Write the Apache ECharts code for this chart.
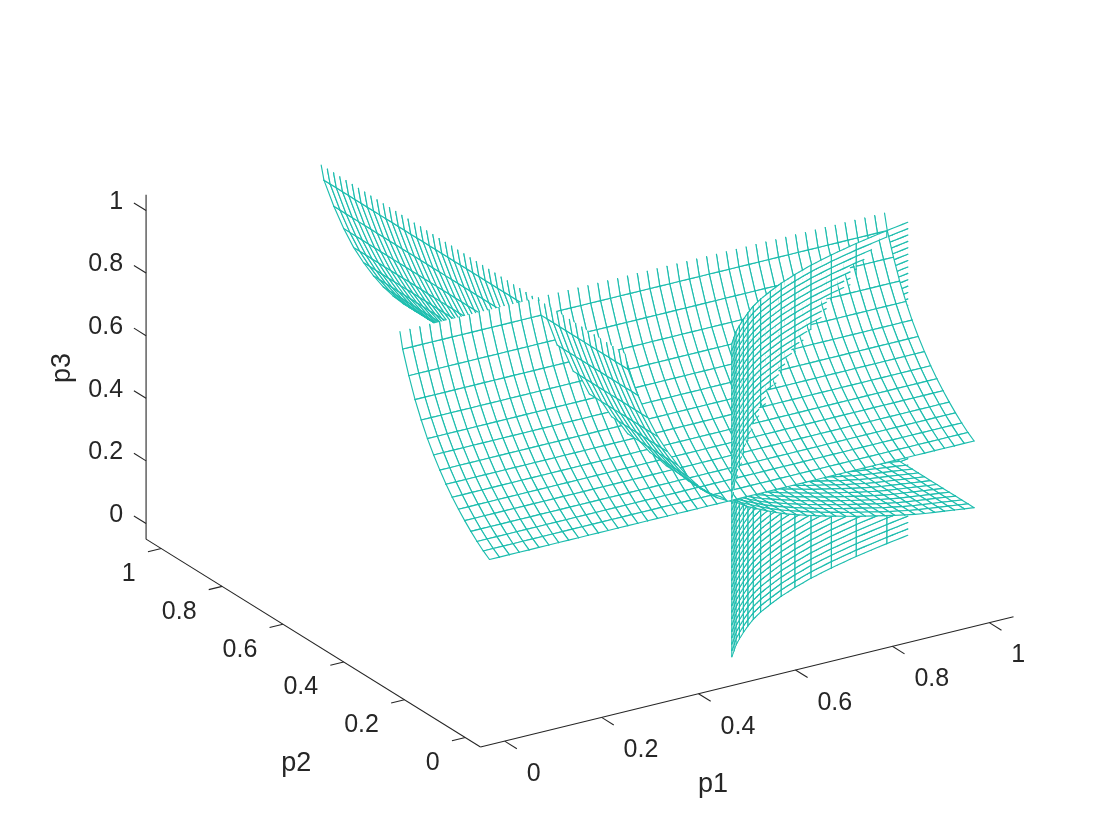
<!DOCTYPE html>
<html>
<head>
<meta charset="utf-8">
<style>html,body{margin:0;padding:0;background:#fff}#chart{width:1120px;height:840px}</style>
<script src="https://cdn.jsdelivr.net/npm/echarts@6/dist/echarts.min.js"></script>
</head>
<body>
<div id="chart"></div>
<script>
// Mesh grid shared by the three sheets (p1 of the back sheet, p2 of the fold sheet, p3 of the vertical sheet)
var levels = [0,.0204,.0408,.0612,.0816,.102,.1224,.1429,.1633,.1837,.2041,.2245,.2449,.2653,.2857,.3061,.3265,.3469,.3673,.3878,.4082,.4286,.449,.4694,.4898,.5102,.5306,.551,.5714,.5918,.6122,.6327,.6531,.6735,.6939,.7143,.7347,.7551,.7755,.7959,.8163,.8367,.8571,.8776,.898,.9184,.9388,.9592,.9796,1];
// Back sheet: p3 as a function of p2, extruded along p1
var backP2 = [0,.0204,.0408,.0612,.0816,.102,.1224,.1429,.1633,.1837,.2041,.2245,.2449,.2653,.2857,.2946];
var backP3 = [.5,.515,.533,.553,.575,.599,.625,.654,.687,.723,.763,.81,.863,.927,1,1.05];
// Fold sheet: p3 as a function of p1, extruded along p2
var foldP1 = [1,.9796,.9592,.9388,.9184,.898,.8776,.8571,.8367,.8163,.7959,.7755,.7551,.7347,.7143,.6939,.6735,.6531,.6327,.6122,.5918,.5714,.551,.5306,.5102,.4898,.4694,.449,.4286,.4082,.3878,.3673,.3469,.3265,.3061,.2857,.28];
var foldP3 = [.287,.291,.295,.299,.303,.307,.312,.318,.324,.331,.338,.345,.352,.36,.368,.376,.385,.394,.404,.414,.426,.44,.454,.469,.489,.503,.52,.544,.576,.613,.656,.706,.762,.83,.909,1,1.05];
// Vertical sheet: p2 as a function of p1, extruded along p3
var vertP2 = [0,.0204,.0408,.0612,.0816,.102,.1224,.1429,.1633,.1837,.2041,.2245,.2449,.2653,.2857,.298];
var vertP1 = [.5,.517,.534,.554,.575,.597,.621,.649,.682,.717,.758,.804,.859,.923,.999,1.05];
// Axes
var tickValues = [0,.2,.4,.6,.8,1];
var tickLabels = ['0','0.2','0.4','0.6','0.8','1'];
var axisMin = -.05, axisMax = 1.05;

// Orthographic view of the box on the hidden plane axes
function project(p) {
  return [489.5 + 484.6 * p[0] - 304 * p[1], 716 - 118.5 * p[0] - 189 * p[1] - 313 * p[2]];
}
function nearness(p) { return -.488 * p[0] - .78 * p[1] + .232 * p[2]; }
function mix(a, b, t) { return [a[0] + (b[0] - a[0]) * t, a[1] + (b[1] - a[1]) * t, a[2] + (b[2] - a[2]) * t]; }

// Hidden-line drawing: each mesh cell is painted white, far to near. A cell may be
// split into strips only to get the overlap order right; strips add no mesh lines.
var cells = [];
function addSheet(count, strips, node) {
  for (var i = 0; i + 1 < levels.length; i++) {
    for (var j = 0; j + 1 < count; j++) {
      var q0 = node(levels[i], j), q1 = node(levels[i + 1], j), q2 = node(levels[i + 1], j + 1), q3 = node(levels[i], j + 1);
      for (var k = 0; k < strips; k++) {
        var a = mix(q0, q3, k / strips), b = mix(q1, q2, k / strips), c = mix(q1, q2, (k + 1) / strips), d = mix(q0, q3, (k + 1) / strips);
        var mid = mix(mix(a, c, .5), mix(b, d, .5), .5);
        cells.push({ a: project(a), b: project(b), c: project(c), d: project(d), depth: nearness(mid),
          first: k === 0, last: k === strips - 1 && j + 2 < count });
      }
    }
  }
}
addSheet(backP2.length, 1, function (l, j) { return [l, backP2[j], backP3[j]]; });
addSheet(foldP1.length, 1, function (l, j) { return [foldP1[j], l, foldP3[j]]; });
addSheet(vertP2.length, 4, function (l, j) { return [vertP1[j], vertP2[j], l]; });
cells.sort(function (x, y) { return x.depth - y.depth; });

var TEAL = '#1dbdae', INK = '#262626';
function renderCell(params, api) {
  var c = cells[api.value(2)];
  var a = api.coord(c.a), b = api.coord(c.b), e = api.coord(c.c), d = api.coord(c.d);
  var edge = { stroke: TEAL, lineWidth: 1.15, fill: null, lineCap: 'round' };
  var kids = [
    { type: 'polygon', shape: { points: [a, b, e, d] }, style: { fill: '#fff', stroke: null } },
    { type: 'polyline', shape: { points: [a, d] }, style: edge },
    { type: 'polyline', shape: { points: [b, e] }, style: edge }
  ];
  if (c.first) kids.push({ type: 'polyline', shape: { points: [a, b] }, style: edge });
  if (c.last) kids.push({ type: 'polyline', shape: { points: [d, e] }, style: edge });
  return { type: 'group', children: kids };
}

var segments = [];
segments.push([[axisMin, axisMin, axisMin], [axisMax, axisMin, axisMin]]);
segments.push([[axisMin, axisMin, axisMin], [axisMin, axisMax, axisMin]]);
segments.push([[axisMin, axisMax, axisMin], [axisMin, axisMax, axisMax]]);
var texts = [];
tickValues.forEach(function (t, i) {
  segments.push([[t, axisMin, axisMin], [t, axisMin - .04, axisMin]]);
  segments.push([[axisMin, t, axisMin], [axisMin - .0275, t, axisMin]]);
  segments.push([[axisMin, axisMax, t], [axisMin, axisMax + .04, t]]);
  texts.push({ at: [t, axisMin, axisMin], dx: 22, dy: 33, align: 'left', s: tickLabels[i], size: 25 });
  texts.push({ at: [axisMin, t, axisMin], dx: -25.5, dy: 25.5, align: 'right', s: tickLabels[i], size: 25 });
  texts.push({ at: [axisMin, axisMax, t], dx: -23, dy: -8.5, align: 'right', s: tickLabels[i], size: 25 });
});
texts.push({ at: [.5, axisMin, axisMin], dx: -34, dy: 103, align: 'center', s: 'p1', size: 27 });
texts.push({ at: [axisMin, .5, axisMin], dx: -17, dy: 120.5, align: 'center', s: 'p2', size: 27 });
texts.push({ at: [axisMin, axisMax, .5], dx: -84, dy: 1, align: 'center', s: 'p3', size: 27, rot: Math.PI / 2 });

var chart = echarts.init(document.getElementById('chart'), null, { renderer: 'canvas' });
chart.setOption({
  animation: false,
  backgroundColor: '#fff',
  grid: { left: 0, right: 0, top: 0, bottom: 0 },
  xAxis: { type: 'value', min: 0, max: 1120, show: false },
  yAxis: { type: 'value', min: 0, max: 840, inverse: true, show: false },
  series: [
    { type: 'custom', coordinateSystem: 'cartesian2d', silent: true, progressive: 0, z: 1,
      encode: { x: 0, y: 1 },
      data: segments.map(function (s, i) { var a = project(s[0]); return [a[0], a[1], i]; }),
      renderItem: function (params, api) {
        var s = segments[api.value(2)];
        var a = api.coord(project(s[0])), b = api.coord(project(s[1]));
        return { type: 'line', shape: { x1: a[0], y1: a[1], x2: b[0], y2: b[1] }, style: { stroke: INK, lineWidth: 1.1 } };
      } },
    { type: 'custom', coordinateSystem: 'cartesian2d', silent: true, progressive: 0, z: 2,
      encode: { x: 0, y: 1 },
      data: cells.map(function (c, i) { return [c.a[0], c.a[1], i]; }),
      renderItem: renderCell },
    { type: 'custom', coordinateSystem: 'cartesian2d', silent: true, progressive: 0, z: 3,
      encode: { x: 0, y: 1 },
      data: texts.map(function (t, i) { var a = project(t.at); return [a[0], a[1], i]; }),
      renderItem: function (params, api) {
        var t = texts[api.value(2)];
        var a = api.coord(project(t.at));
        return { type: 'text', x: a[0] + t.dx, y: a[1] + t.dy, rotation: t.rot || 0,
          style: { text: t.s, fill: INK, font: t.size + 'px "Liberation Sans", Arial, sans-serif', align: t.align, verticalAlign: 'middle' } };
      } }
  ]
});
</script>
</body>
</html>
